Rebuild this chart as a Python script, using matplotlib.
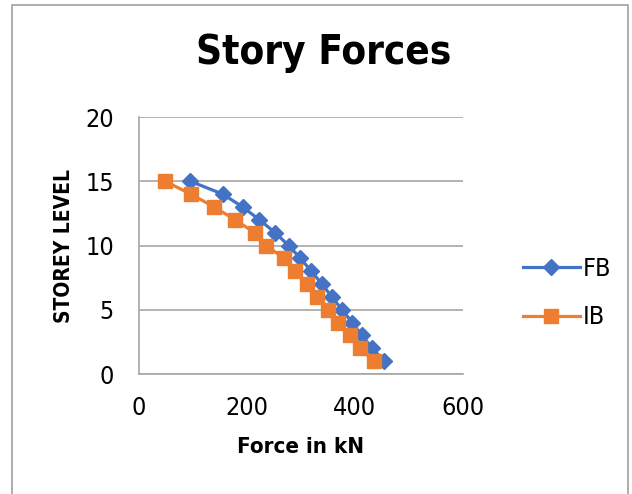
import matplotlib
matplotlib.use("Agg")
import matplotlib.pyplot as plt
from matplotlib.patches import Rectangle

plt.rcParams['font.family'] = ['DejaVu Sans']
plt.rcParams['font.stretch'] = 'condensed'

levels = [15, 14, 13, 12, 11, 10, 9, 8, 7, 6, 5, 4, 3, 2, 1]
fb_force = [95, 155, 192, 223, 252, 277, 299, 319, 339, 357, 376, 395, 413, 432, 454]
ib_force = [48, 96, 139, 178, 214, 235, 269, 289, 312, 330, 350, 368, 390, 409, 435]

x_ticks = [0, 200, 400, 600]
y_ticks = [0, 5, 10, 15, 20]

fig = plt.figure(figsize=(6.32, 4.94), dpi=100)
ax = fig.add_axes([139/632, 1 - 374/494, 324/632, 257/494])

ax.plot(fb_force, levels, color='#4472C4', lw=2.3, marker='D', ms=8, label='FB')
ax.plot(ib_force, levels, color='#ED7D31', lw=2.3, marker='s', ms=9.5, label='IB')

ax.set_xlim(0, 600)
ax.set_ylim(0, 20)
ax.set_xticks(x_ticks)
ax.set_yticks(y_ticks)
ax.tick_params(axis='x', length=0, labelsize=18, pad=16)
ax.tick_params(axis='y', length=0, labelsize=18, pad=18)
ax.grid(axis='y', color='#a6a6a6', lw=1.2)
ax.set_axisbelow(True)
for s in ['top', 'right']:
    ax.spines[s].set_visible(False)
for s in ['left', 'bottom']:
    ax.spines[s].set_color('#a6a6a6')
    ax.spines[s].set_linewidth(1.2)

ax.set_xlabel('Force in kN', fontsize=16, fontweight='bold', labelpad=12)
ax.set_ylabel('STOREY LEVEL', fontsize=15, fontweight='bold', labelpad=8)
fig.text(324/632, 0.893, 'Story Forces', ha='center', va='center', fontsize=29, fontweight='bold')

fig.legend(loc='center left', bbox_to_anchor=(500/632, 1 - 293/494), frameon=False,
           fontsize=18, handlelength=2.3, labelspacing=1.0, handletextpad=0.1)

fig.patches.append(Rectangle((12/632, -0.01), 616/632, 1 - 5/494 + 0.01, transform=fig.transFigure,
                             fill=False, edgecolor='#a0a0a0', lw=1.2))

fig.savefig('out.png', dpi=100)
